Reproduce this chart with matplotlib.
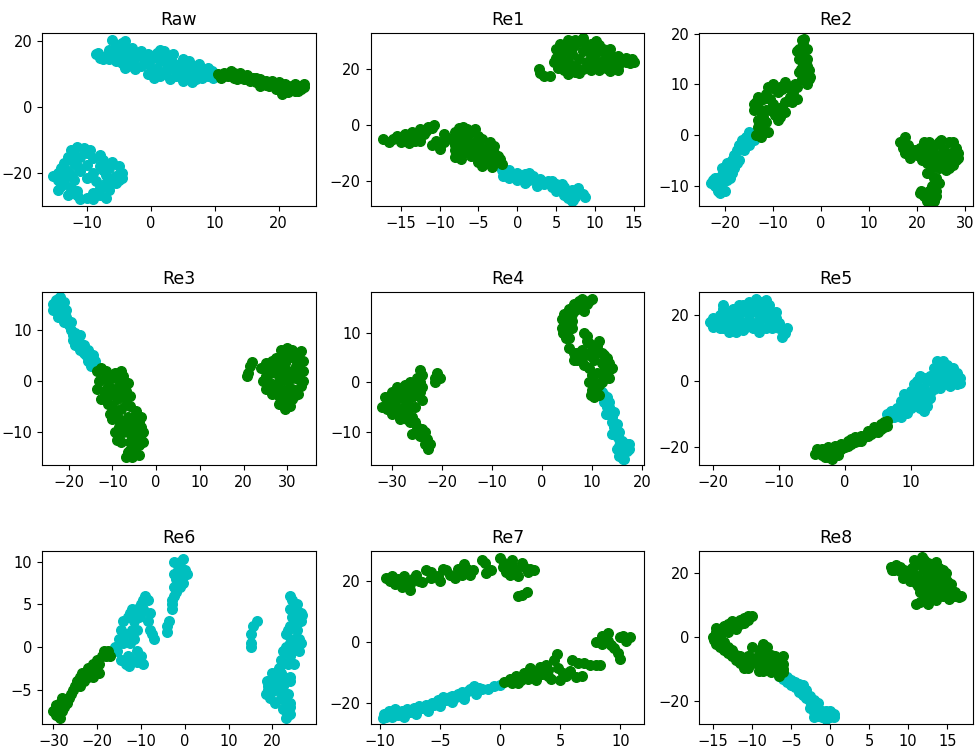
import numpy as np
import matplotlib
matplotlib.use("Agg")
import matplotlib.pyplot as plt

# embedded 2-D coordinates, one list of (x, y) per colour and panel
raw_cyan = [
    (-8.5, 16), (-8, 15), (-7.5, 14.5), (-8.3, 16.5),
    (-6, 20.5), (-5.5, 19), (-5, 18), (-4.5, 19.5), (-4, 18.5), (-3.5, 17), (-4, 15.5), (-5, 16),
    (-6, 16), (-6.5, 14.5), (-5.5, 14), (-4.5, 13.5), (-3.5, 12.5), (-3, 14), (-2.5, 11.5), (-4, 12),
    (-5, 17), (-3, 16),
    (-1.5, 17), (-1, 15), (-0.5, 13), (-1.5, 12.5), (0, 11), (0.5, 9), (1, 16.5), (1.5, 14), (1, 12),
    (2, 10.5), (2.5, 13), (3, 15), (3.5, 11.5), (4, 9.5), (4.5, 13), (5, 14.5), (5, 8), (5.5, 11),
    (6, 9), (6.5, 7.5), (6.5, 12.5), (7, 10.5), (7.5, 13), (8, 9), (8.5, 11), (9, 9.5), (9.5, 11),
    (2, 17), (0, 14.5), (3, 8.5), (4, 12), (-2, 15.5),
    (-7, 15.5), (-6.5, 17.5), (-5.5, 16.5), (-4.5, 15), (-3.5, 14.5), (-2.8, 13), (-3, 18), (-4, 20),
    (-0.5, 16), (0.5, 15.5), (-0.5, 10), (1.5, 9.5), (2.5, 11.5), (3.5, 13.5), (4.5, 10.5),
    (5.5, 12.5), (6, 14), (7, 8.5), (8, 11.5), (9, 12), (9.8, 9), (2, 15.5), (3.5, 16), (1.5, 17.5),
    (-11.5, -12), (-12.5, -13), (-10.5, -12.5), (-9.5, -13), (-13, -15), (-11, -15), (-9, -15.5),
    (-7.5, -16), (-12, -17), (-10, -17.5), (-8, -18), (-6.5, -18.5), (-5, -18), (-14, -18.5),
    (-13, -19.5), (-11, -19.5), (-9, -20), (-7, -20.5), (-5.5, -21), (-4.5, -20), (-15.2, -21),
    (-14.5, -22), (-13.5, -21.5), (-12, -22), (-8.5, -22.5), (-7, -23), (-5.5, -23), (-14, -24),
    (-12.5, -24.5), (-8, -24.5), (-6.5, -25), (-13, -26.5), (-11.5, -26.5), (-10, -27.5), (-9, -26),
    (-8, -26.5), (-11.5, -25.5), (-12.5, -25.5),
    (-14.5, -20), (-13.5, -17), (-12, -14.5), (-10, -14), (-8, -14.5), (-6, -16.5), (-5, -22),
    (-6.5, -21.5), (-10, -21.5), (-12.5, -20.5), (-14.5, -25), (-13.5, -23), (-7, -27.5), (-9, -28),
    (-11, -28), (-6.5, -24), (-4.5, -21.5), (-7.5, -19), (-11.5, -18),
]
raw_green = [
    (10.5, 10), (11, 9), (11.5, 10.5), (12, 9.5), (12.5, 11), (13, 9), (13, 10.5), (13.5, 8.5),
    (14, 9.5), (14.5, 8.5), (15, 9.8), (15.5, 8), (16, 9), (16.5, 7.5), (17, 8.5), (17.5, 7),
    (18, 8), (18.5, 6.5), (19, 7), (19.5, 5.5), (20, 7.5), (20.5, 5), (21, 6), (21.5, 4.5),
    (22, 6.5), (22.5, 5), (23, 6.5), (23.5, 5.5), (24, 6), (20.5, 4), (21, 7), (22, 5.5),
    (11.5, 9.5), (12.5, 9.8), (14, 10.3), (15, 8.7), (16.5, 8.8), (18, 6.8), (19, 8), (20, 5.5),
    (21.5, 6.5), (23, 5), (24, 7), (22.5, 7), (19.5, 6.5), (17, 6.5),
]

re1_cyan = [
    (-2, -16), (-1.5, -17.5), (-1, -16), (-0.5, -18), (0, -17), (0.5, -18.5), (1, -17.5),
    (1.5, -19.5), (2, -18), (2.5, -20), (3, -19), (3.5, -21), (4, -20), (4.5, -22), (5, -21),
    (5.5, -23), (6, -22), (6.5, -24.5), (7, -23), (7.5, -25.5), (8, -24), (8.5, -24.5), (6.5, -26),
    (7.2, -26.5), (2.5, -21.5), (1, -20.5), (-1, -18.8),
    (-1.8, -18), (0, -19.5), (1.5, -17), (3, -20.5), (4.5, -19.8), (5.8, -21), (6, -25),
    (7.8, -22.5), (8.8, -25.5), (7, -27), (5, -23.5),
]
re1_green = [
    (2.8, 20), (3, 18.5), (3.5, 17.5), (4.2, 17.5),
    (5, 27), (5.5, 29), (6.5, 30.5), (7.5, 30.5), (8.5, 29.5), (9.5, 29), (10.5, 28.5), (11, 27),
    (5, 24), (6, 26), (6.5, 23), (7, 21), (5.5, 21.5), (6, 19.5), (7.5, 19), (8.5, 20), (9, 22.5),
    (9.5, 25), (8.5, 26.5), (10, 21), (11, 23), (11.5, 25), (12, 22), (12.5, 24), (13, 21),
    (13.5, 23), (14, 24), (14.5, 22), (15, 22.5), (13, 19.5), (11.5, 20.5), (8, 18.5), (7, 27.5),
    (9.8, 27), (12, 27), (10.5, 19.5), (6.5, 18.2), (4.8, 22.5), (5.5, 25),
    (6, 28.5), (7.5, 28.5), (9, 27.5), (10.5, 26.5), (12, 25.5), (13, 24.5), (14, 22.5),
    (14.8, 23.5), (12, 19.2), (9.5, 19.5), (7.5, 21), (6, 22.5), (8, 23.5), (10, 23.5), (11, 21.5),
    (12.8, 22.2), (5.2, 20.2), (8.5, 31), (10.2, 29.8), (7, 25.5),
    (-17.3, -5), (-16, -5), (-15.5, -4), (-15, -6), (-14.5, -3), (-14, -5), (-13.5, -2.5),
    (-13, -4), (-12.5, -1.5), (-12, -3), (-11.5, -0.5), (-11, -1), (-10.7, 0), (-14, -6.5),
    (-12.5, -5.5),
    (-11, -7), (-10, -7.5), (-9.5, -6), (-9.5, -3), (-10, -8.5),
    (-7.5, -1), (-6.5, -1.5), (-7, -0.5), (-5.5, -1.5), (-8, -2.5),
    (-8.5, -5), (-7.5, -5), (-6.5, -4), (-7, -7), (-8, -9), (-6, -8), (-7, -10), (-6, -11),
    (-8, -11.5), (-5.5, -6),
    (-5, -7), (-4.5, -5), (-4, -8), (-3.5, -6), (-5, -10), (-4, -11), (-3, -10), (-5, -13),
    (-4, -13.5), (-3, -13), (-2.2, -12), (-2, -14), (-3.5, -9), (-4.5, -12),
    (-16.5, -6), (-15, -4.8), (-13.2, -5.5), (-11.8, -2), (-10.5, -5.5), (-9, -4.5), (-8, -7),
    (-6.5, -6), (-7.5, -3), (-6, -2.5), (-5, -4), (-3, -7.5), (-3.8, -10.5), (-2.5, -11),
    (-5.5, -9.5), (-7.2, -12), (-4.5, -14.5), (-3.2, -14.8),
]

re2_cyan = [
    (-22.5, -9), (-22, -10), (-21.5, -11), (-21, -9.5), (-20.5, -10.5), (-20, -9), (-20.5, -8),
    (-19.5, -7), (-19, -8.5), (-19, -6), (-18.5, -5), (-18, -6.5), (-18, -4), (-17.5, -3),
    (-17, -5), (-17, -2), (-16.5, -1), (-16, -3), (-15.5, -0.5), (-15, -2), (-14.5, 0), (-14, -1),
    (-21.5, -8.5), (-22.8, -9.5), (-18.5, -7.5),
    (-21, -11.5), (-22, -8.5), (-20, -11), (-19.5, -9), (-17.5, -5.5), (-16, -1.5), (-15, 0.5),
    (-20.5, -6.5), (-19.5, -5.5),
]
re2_green = [
    (-13.5, 0), (-13, 1.5), (-12, 1), (-11, 0.5), (-11.5, 2.5), (-13, 3), (-14, 5), (-13.5, 6.5),
    (-13, 7.5), (-12, 7), (-12.5, 4.5), (-11.5, 5),
    (-11, 9.5), (-10, 10), (-9.5, 9), (-8.5, 9.5), (-7.5, 10.5), (-8, 9),
    (-10, 6), (-9, 5), (-9.5, 4), (-8, 5.5), (-7.5, 6.5), (-6, 6.5), (-10.5, 7), (-8.5, 3.5), (-5, 7),
    (-5.5, 10), (-5, 9.5), (-5.8, 8.5),
    (-3.5, 19), (-3.8, 18), (-4.5, 17), (-4, 16), (-3.5, 15.5), (-4.5, 15), (-3.8, 14), (-4.2, 13),
    (-3, 13.5), (-3.2, 12), (-2.5, 11), (-3, 10), (-3.5, 11.5), (-2.5, 12.8), (-4.5, 12.5), (-5, 16.5),
    (-12.5, -0.5), (-12, 3.5), (-14, 6), (-13, 5.5), (-11.5, 8), (-9, 8.5), (-7, 9.5), (-7.5, 4.5),
    (-6.5, 7.5), (-9, 3), (-10.5, 5), (-4, 11), (-3, 17), (-4, 18.8), (-3, 15), (-2.2, 11.5),
    (16.5, -1.5), (17.5, -0.5), (18, -2), (17.5, -3.5), (18.5, -4.5), (19.5, -3), (20.5, -2.5),
    (21, -4), (21.5, -3), (22, -5.5), (22.5, -1.5), (23, -3), (23.5, -5), (23, -6.5), (24, -2),
    (24.5, -4), (24.5, -6.5), (25, -1), (25.5, -3), (26, -5.5), (26.5, -1.5), (27, -3.5), (27.5, -6),
    (28, -2.5), (28.5, -3.5), (28, -5), (26, -7), (25, -5), (22, -7.5),
    (17, -2.5), (19, -3.8), (20, -4), (21.5, -1.5), (23, -2), (24, -5.5), (25.5, -4.5), (26.5, -6.5),
    (27.5, -1.5), (28.5, -4.5), (27, -5), (24.5, -1.5), (21, -5), (22, -4),
    (20.5, -11.5), (21.5, -12), (22.5, -12.5), (23.5, -13), (23, -10), (24, -11), (24.5, -9.5),
    (23.5, -8.5), (22.5, -11), (24, -12), (22, -13), (24, -8.5), (20.8, -11),
]

re3_cyan = [
    (-23.5, 15), (-23, 14), (-22.5, 16), (-22, 15), (-22, 13.5), (-21.5, 14.5), (-21, 13),
    (-20.5, 12.5), (-20.5, 14), (-23, 15.8), (-20, 11), (-19.5, 10), (-18.5, 9.5), (-18, 8.5),
    (-17.5, 7.5), (-18.5, 7), (-17, 6.5), (-16.5, 5.5), (-16, 5), (-15.5, 4), (-14.5, 5), (-14, 4),
    (-14.8, 3), (-19, 8), (-17.5, 9),
    (-23.5, 14), (-22, 16.5), (-21, 15.5), (-22.5, 12.5), (-21, 11.5), (-19.5, 11.5), (-19, 9),
    (-17.5, 6), (-16.5, 7), (-15.5, 6), (-15, 4.5),
]
re3_green = [
    (-13.5, 2), (-12.5, 2.5), (-11.5, 2), (-13, 0), (-13.5, -1.5), (-12, -2), (-11, -3), (-10, -2),
    (-10, 0.5), (-9.5, 1.5), (-8.5, 0), (-8, -1), (-7.5, 1), (-9, -3.5), (-7, -2), (-6.5, -0.5),
    (-6, -3), (-12.5, -3.5), (-9.8, -1.5),
    (-11, -4.5), (-10, -5), (-9, -6), (-10, -7.5), (-8, -5.5), (-7, -4.5), (-6, -5), (-6.5, -7),
    (-8.5, -9), (-9.5, -10), (-7.5, -10), (-6, -9),
    (-5, -7), (-4, -8), (-3.5, -9), (-3, -10), (-4.5, -10.5), (-5.5, -11), (-6, -12), (-4, -12.5),
    (-5, -13.5), (-6.5, -14), (-7, -15), (-5.5, -15), (-3.5, -11.5), (-6.5, -10), (-4.5, -6),
    (-12, 0.5), (-11, -1), (-9, -1.5), (-8, 2), (-7.5, -3), (-10.5, -6.5), (-8.5, -7.5), (-7, -8.5),
    (-8, -12), (-9, -11.5), (-5, -9), (-3.5, -7), (-4, -14.5), (-6, -13.5), (-3, -12), (-5.5, -8.5),
    (-4, -10),
    (21, 1.5), (21.5, 3), (22, 3.8), (20.8, 1),
    (24, 2.5), (24.5, 0), (25, 3.5), (25.5, -1), (26, 1.5), (26.5, -2.5), (27, 3), (27, -1),
    (27.5, 4.5), (28, 0), (28, -3), (28.5, 2), (28.5, 6), (29, -4.5), (29.5, -2), (29.5, 3.5),
    (30, 6.5), (30, 0), (30.5, -5), (31, 2), (31, -1.5), (31.5, 4.5), (32, 0.5), (32, 5.5),
    (32.5, -2.5), (33, 2), (33.5, 4), (33.5, 0), (31, -3.5), (30, -3), (26, -0.5), (25, 1), (33.2, 5.8),
    (25, -1.5), (25.5, 2.5), (26.5, 4), (27.5, 1.5), (27.5, -2), (28, 3.5), (28.5, -1.5), (29, 1),
    (29, 5), (29.5, -3.5), (30, 2), (30, 4.5), (30.5, -1.5), (31, 0.5), (31, 6), (31.5, -3),
    (32, 3), (32.5, 1), (33, -1), (33.5, 2), (29.5, -5.5), (28, -4.5), (32.5, 4),
]

re4_cyan = [
    (12, -2), (12.5, -4), (13, -3), (13, -6.5), (13.5, -5), (14, -7), (14.5, -6), (14.5, -9),
    (14, -10.5), (15, -8.5), (15, -11), (15.5, -10), (15.5, -13), (16, -12), (16, -14.5),
    (16.5, -13.5), (17, -12.5), (17.5, -12.5), (15.5, -15), (16.5, -15.5), (13.5, -4),
    (12.5, -2.5), (13, -5), (14, -8), (14.5, -10), (15.5, -11.5), (16, -13), (17, -14), (15, -13.5),
    (16.2, -15.5), (17.5, -13.5), (12.8, -6.5),
]
re4_green = [
    (-32, -5), (-31.5, -3), (-31, -4.5), (-30, -2), (-30, -6.5), (-29.5, -4), (-29, -1), (-29, -6),
    (-28.5, -3), (-28.5, -7.5), (-28, -2), (-27.5, -4.5), (-27, -1.5), (-27, -6), (-26.5, 0),
    (-26, -3), (-26, -7), (-25.5, -1), (-25.5, -5), (-25, 1), (-24.5, 2.5), (-24, 1.5), (-24.5, -2),
    (-24, -3.5), (-25, -9), (-26, -10.5), (-24.5, -11), (-23.5, -10), (-23, -11.5), (-22.8, -13.5),
    (-25.5, -8), (-21.5, 1), (-21, 2), (-20.5, 1), (-21.5, 0),
    (-31, -5.5), (-30.5, -3), (-29.5, -5), (-28, -5.5), (-27, -3), (-26.5, -5), (-26, -1.5),
    (-25, -2.5), (-24.5, 0), (-24, -1), (-27.5, -0.5), (-28.5, -6.5), (-24, -9.5), (-25, -10),
    (-23.5, -12.5), (-22.5, -12.5), (-26.5, -8), (-27, -7.5),
    (4, 11), (4, 13), (4.5, 14), (5, 12), (5.5, 15), (6, 14), (6.5, 16), (7, 15), (7.5, 16.5),
    (8, 17), (9, 16), (10, 17), (8.5, 14.5), (5, 10.5), (4.8, 9), (5.5, 9), (6, 11),
    (5.5, 7), (6.5, 6), (7, 4.5), (8, 5), (8.5, 3.5), (9, 9.5), (9.5, 8), (9.5, 3), (10.5, 4.5),
    (11, 6), (11.5, 8.5), (12, 4), (12.5, 2.5), (13, 5), (13.5, 4), (14, 3), (13.5, 1), (12, 0),
    (11, -1), (10, -1.5), (9.5, 0), (10, 1.5), (11.5, -2.5), (10.5, -3),
    (4.5, 12), (5.5, 13), (6.5, 14.5), (7, 16), (8.5, 16), (9.5, 16.5), (6, 12.5), (4.2, 10),
    (7, 6), (8, 6.5), (6.5, 4.5), (9.5, 5.5), (10, 6.5), (11, 7.5), (12, 6), (12.5, 5.5),
    (13.5, 2.5), (12.5, 1), (11, 2), (10.5, 0), (9.8, -2.5), (11.5, -0.5), (8.5, 10), (9, 8.5),
]

re5_cyan = [
    (-20.5, 18), (-20, 16.5), (-20, 19), (-19.5, 17.5), (-19, 20), (-18.5, 16), (-18, 18), (-18, 21),
    (-17.5, 15), (-17, 22), (-17, 19), (-16.5, 17), (-16, 23), (-16, 20), (-15.5, 15.5), (-15, 18),
    (-15, 21.5), (-14.5, 24), (-14, 16), (-14.5, 20), (-13.5, 22), (-13.5, 25), (-13, 15), (-13, 18),
    (-12.5, 24), (-12.5, 20.5), (-12, 16), (-12, 22.5), (-11.5, 18.5), (-11, 21), (-11, 16),
    (-10.5, 19), (-10, 17.5), (-9.5, 13.5), (-9, 14.5), (-8.8, 16), (-18.5, 23), (-16.5, 15),
    (-20, 17.5), (-19, 18.5), (-19, 16), (-18, 19.5), (-17.5, 17), (-17.5, 20), (-16.5, 21.5),
    (-16, 18), (-15.5, 23), (-15, 16.5), (-14.5, 22.5), (-14, 17.5), (-13.5, 16.5), (-13, 20),
    (-12, 19), (-11.5, 23), (-11, 17.5), (-10.5, 21), (-12, 24.5), (-13, 23.5), (-10, 16),
    (-16.5, 19.5), (-18.5, 22),
    (6.5, -10), (7, -9), (7.5, -11), (8, -8), (8.5, -6), (8.5, -11), (9, -4), (9.5, -7), (9.5, -9.5),
    (10, -5.5), (10.5, -3), (10.5, -1), (11, -6), (11, 0), (11.5, -8), (11.5, 1.5), (12, -4),
    (12, -2), (12.5, 0), (12.5, -6), (13, -3.5), (13.5, -1), (13.5, 4), (14, 6), (14, 1.5),
    (14.5, -2), (15, 3), (15, -1), (15.5, 5), (16, 2), (16, -1.5), (16.5, 4), (17, 1), (17, -1),
    (17.5, -0.5), (15.5, 0.5), (12, -9),
    (7, -11), (8, -10), (9, -8.5), (10, -8), (10, -3), (11, -4), (11.5, -2), (12, 1), (13, -5),
    (13, 1.5), (13.5, -2.5), (14, 3), (14.5, 0.5), (14.5, 4.5), (15, 6), (15.5, 2), (16, 3.5),
    (16.5, -0.5), (17, 2.5), (17.5, 1), (14, -1.5), (11.5, -6), (12.5, -7.5), (9.5, -5),
]
re5_green = [
    (-4, -21.5), (-3.5, -20.5), (-3.5, -22.5), (-3, -21), (-2.5, -23), (-2.5, -20), (-2, -21.5),
    (-1.5, -19.5), (-1, -21), (-0.5, -19), (0, -20), (0.5, -18), (1, -19), (1.5, -17), (2, -18),
    (2.5, -16.5), (3, -17), (3.5, -15), (4, -16), (4.5, -14), (5, -15.5), (5.5, -13), (6, -14),
    (6.5, -12), (6.5, -13.5), (-4.5, -22), (-1.5, -22), (1, -17.5),
    (-3, -23), (-2, -23.5), (-1, -22.5), (-0.5, -20.5), (0.5, -19.5), (1.5, -18.5), (2.5, -18),
    (3.5, -16.5), (4.5, -15.5), (5.5, -14.5), (6, -12.5), (-4.2, -20.5),
]

re6_cyan = [
    (-16, 0), (-15.5, -0.5), (-15, 1), (-14.5, -1.5), (-14.5, 2), (-14, 3), (-13.5, -2), (-13, 3.5),
    (-13, -1), (-12.5, 4), (-12.5, 0.5), (-12, 4.5), (-12, 2), (-11.5, 3), (-11, 4.5), (-11.5, 1),
    (-11, -0.5), (-10.5, -1.5), (-10, -1), (-10, 4), (-10, 5), (-9.5, 4.5), (-9.5, 5.5), (-9, 6),
    (-8.5, 5.5), (-8.5, 3), (-8, 2), (-7.5, 1.5), (-7, 1), (-9.5, -2),
    (-14, 0.5), (-13.5, 1.5), (-12, -1.5), (-11, 2), (-10.5, 3.5), (-8, 4), (-11, -1.8), (-12.8, -2.2),
    (-4, 1.8), (-4, 2.5), (-3.5, 3), (-3, 4.5), (-3, 5.5), (-2.5, 6), (-2.5, 7), (-2, 6.5),
    (-2.5, 8.5), (-2, 8), (-1.5, 9), (-2.5, 10), (-1, 10), (-0.5, 10.3), (-1, 8.5), (0, 9),
    (0.5, 8.5), (-1, 7), (-0.5, 7.5), (-3, 5),
    (15, 0.5), (15.2, 1.5), (15.5, 2.5), (16.5, 3), (15, 0),
    (24, 6), (24.5, 5.5), (25, 5), (24, 4.5), (25.5, 4), (26.5, 4), (26.5, 3), (25, 3), (24, 2.5),
    (23.5, 2), (23, 1.5), (25.5, 2), (26, 1), (26.5, 0.5), (25, 0), (24.5, -0.5), (26, -0.5),
    (23, 0), (22.5, -0.5), (24, -1), (23.5, -2), (25, -2), (22, -1.5), (21.5, -2.5), (21, -3.5),
    (21, -4.5), (22, -3), (22.5, -3.5), (24, -3.5), (24, -4), (20, -3), (19.5, -4), (19, -5),
    (18.5, -5.5), (19.5, -6), (20.5, -5), (20.5, -6.5), (22, -5), (22.5, -6), (23, -6.5),
    (23.5, -5.5), (23, -7.5), (23.5, -8), (24, -7), (24, -6.5), (23, -8.3), (22.5, -4.5), (19, -4.5),
    (24.5, 3.5), (25.5, 5), (26.8, 3.8), (25, 1), (24, 0.5), (23.5, -0.5), (21.5, -3.5), (20.5, -4),
    (19.5, -5), (22, -6), (23.5, -7), (24, -7.8), (22.5, -7.2), (18.8, -4),
]
re6_green = [
    (-30, -7.5), (-29.5, -8), (-29.5, -6.8), (-29, -7.5), (-28.5, -6.5), (-28.5, -8.3), (-28, -7.5),
    (-28, -6), (-27.5, -7), (-27, -6.5), (-26.5, -6), (-26, -5.5), (-25.5, -5), (-25, -4.5),
    (-24.5, -4), (-24, -4.5), (-24, -3.5), (-23.5, -3), (-23, -4), (-22.5, -3), (-22, -2.5),
    (-22, -3.5), (-21.5, -3), (-21, -2), (-20.5, -2.5), (-20, -1.5), (-19.5, -2), (-19, -1),
    (-18.5, -0.5), (-18, -1), (-17.5, -0.5), (-17, -1), (-19.5, -3), (-21, -3.5), (-29.5, -7.2),
]

re7_cyan = [
    (-9.7, -23.5), (-9.5, -24.5), (-9.3, -22.5), (-9, -23.5), (-8.8, -22), (-8.5, -24), (-8.2, -22.5),
    (-8, -23.5), (-7.8, -22), (-7.5, -23), (-7.2, -21.5), (-7, -22.5), (-6.8, -21), (-6.5, -21.5),
    (-6.2, -20.5), (-6, -21), (-5.7, -20), (-5.5, -20.5), (-5.2, -19), (-5, -20), (-4.8, -18),
    (-4.5, -19), (-4.2, -18), (-4, -17.5), (-3.7, -18), (-3.5, -17), (-3.2, -16.5), (-3, -17.5),
    (-2.7, -16), (-2.5, -15.5), (-2.2, -14.5), (-2, -16), (-1.8, -15), (-1.5, -15.5), (-0.5, -14.5),
    (0, -14), (-9.8, -24.8),
    (-9, -24.5), (-8, -24.5), (-7, -23.5), (-6, -22.5), (-5, -21), (-4, -19.5), (-3, -18.5),
    (-2, -17), (-1, -15.5),
]
re7_green = [
    (-9.5, 21), (-9.2, 20), (-9, 21.5), (-8.8, 19), (-8.5, 20.5), (-8.2, 18), (-8, 20), (-8, 21.5),
    (-7.5, 19), (-7.5, 17), (-7.2, 21), (-7, 22), (-6.8, 20), (-6.5, 19.5), (-6.2, 23.5), (-5.8, 23),
    (-5.8, 21), (-5.2, 21.5), (-5, 20), (-4.8, 24), (-4.5, 23.5), (-4.2, 22), (-3.8, 21), (-3.5, 24),
    (-3.2, 22), (-3, 25.5), (-2.8, 24), (-2.5, 22), (-2.3, 23.5), (-1.5, 27), (-1.3, 26),
    (-1.2, 22.5), (-0.8, 23.5), (0, 27.5), (0.3, 26), (0.2, 24.5), (0.5, 23), (1, 27), (1, 25),
    (1.2, 23), (1.5, 21.5), (1.8, 26), (2, 24.5), (2.3, 23), (2.5, 24), (2.8, 23.5), (1.5, 15),
    (1.8, 15.5), (2.2, 16.5), (1.2, 24), (0.8, 22),
    (0.3, -13), (0.8, -12), (1, -13.5), (1.3, -11), (1.7, -12.5), (2, -10), (2.3, -12), (2.5, -8.5),
    (2.8, -10), (3, -12.5), (3.3, -8), (3.5, -10.5), (3.8, -7.5), (4, -9), (4.2, -12), (4.5, -6),
    (4.7, -4), (4.8, -8.5), (5, -12.5), (5.2, -10), (5.5, -11), (5.8, -9.5), (6, -6), (6.3, -11.5),
    (6.5, -7), (6.8, -11), (7, -7), (7.5, -7.5), (8, -7.5), (8.3, -7.5), (8, 0), (8.5, 2),
    (8.5, -0.5), (8.8, 1), (9, 3), (9.2, -1), (9.5, -2), (9.8, -3.5), (10, -5.5), (10, 1.5),
    (10.2, 2), (10.5, 0.5), (10.8, 1.5), (9, 0.5), (3, -11), (1.5, -13.5), (4, -11),
]

re8_cyan = [
    (-6, -13), (-5.5, -14), (-5, -13.5), (-5, -15), (-4.5, -15.5), (-4, -14.5), (-4, -17),
    (-3.5, -16), (-3.5, -18), (-3, -19), (-3, -17.5), (-2.5, -20), (-2.5, -22), (-2, -21),
    (-2, -23.5), (-1.5, -22.5), (-1.5, -24.5), (-1, -23), (-1, -25), (-0.5, -24), (-0.5, -25.5),
    (0, -23), (0, -25), (0.5, -24), (-2, -25), (-6.5, -12),
    (-5.5, -12.5), (-4.5, -14), (-3.5, -15), (-3, -16.5), (-2.5, -18.5), (-2, -19.5), (-1.8, -22),
    (-1, -24), (0.5, -25), (-0.5, -23), (-1.5, -20.5),
]
re8_green = [
    (7.8, 22), (8.2, 21), (8.5, 22.5), (9, 20.5), (9.3, 18.5), (9.5, 21), (10, 19), (10.3, 17.5),
    (10.5, 21.5), (10.8, 24), (11, 19.5), (11.3, 16), (11.8, 25), (11.5, 22.5), (11.5, 14),
    (11.5, 11), (12, 18), (12.2, 13), (12.5, 10.5), (12.5, 23), (12.8, 20), (13, 16.5), (13.3, 22.5),
    (13.5, 14), (13.8, 19), (14, 21.5), (14.2, 16.5), (14.5, 13), (14.8, 20), (15, 17.5), (15.2, 12),
    (15.5, 15), (15.8, 13), (16.2, 13), (16.5, 12.5), (13, 12.5), (12, 21),
    (8, 21), (9, 22), (10, 20.5), (10.5, 18.5), (11, 23), (11, 17), (12, 24), (12, 15.5), (12, 12),
    (12.8, 14.5), (13, 18), (13.5, 20.5), (13.5, 23.5), (14, 18), (14.5, 15), (14.5, 21), (15, 14),
    (15.5, 16.5), (16, 14), (16.8, 13), (13.5, 11.5), (11, 10.5), (12.5, 17),
    (-15, 0), (-14.8, -1), (-14.5, 1.5), (-14.5, 3), (-14, 0.5), (-14, 2.5), (-13.5, 3.5),
    (-13.5, -1.5), (-13, 4), (-12.5, 3), (-12.5, 5), (-12, 4.5), (-11.5, 5.5), (-11, 6),
    (-10.5, 5.5), (-10, 6.5), (-11.5, 4),
    (-14, -3), (-13.5, -4), (-13, -5), (-12.5, -6), (-12.5, -4), (-12, -7), (-11.5, -8), (-11, -7),
    (-11, -9.5), (-10.5, -6), (-10, -3), (-10, -8), (-9.5, -6.5), (-9, -7.5), (-8.5, -5), (-8.5, -2),
    (-8, -3), (-8, -6), (-8, -10), (-7.5, -8), (-7, -6), (-7, -10.5), (-6.5, -7.5), (-6.5, -9),
    (-6, -6), (-6, -8.5), (-6, -11), (-6.5, -12), (-9, -10.5), (-10.5, -9.5),
    (-14.5, -2), (-13, 1.5), (-12, 2.5), (-11, 4.5), (-10.5, 6.5), (-13, -3), (-12, -5.5),
    (-11.5, -6), (-10, -6.5), (-9, -4), (-9, -9), (-8, -8.5), (-7.5, -5.5), (-7, -7.5), (-6, -10),
    (-6.5, -11), (-8.5, -10.5), (-7.5, -11),
]

titles = ["Raw", "Re1", "Re2", "Re3", "Re4", "Re5", "Re6", "Re7", "Re8"]
cyan_sets = [raw_cyan, re1_cyan, re2_cyan, re3_cyan, re4_cyan, re5_cyan, re6_cyan, re7_cyan, re8_cyan]
green_sets = [raw_green, re1_green, re2_green, re3_green, re4_green, re5_green, re6_green, re7_green, re8_green]

x_limits = [(-17, 25.8), (-18.9, 16.4), (-25.3, 31.6), (-26.1, 36.5), (-34.3, 20.5),
            (-22.1, 19.5), (-32.6, 29.9), (-10.8, 12.0), (-16.7, 18.3)]
y_limits = [(-30, 22.5), (-28.8, 32.8), (-14.05, 20.1), (-16.5, 17.45), (-16.8, 18.4),
            (-25.4, 27), (-9.0, 11.25), (-26.8, 29.8), (-27.1, 26.9)]
x_ticks = [[-10, 0, 10, 20], [-15, -10, -5, 0, 5, 10, 15], [-20, -10, 0, 10, 20, 30],
           [-20, -10, 0, 10, 20, 30], [-30, -20, -10, 0, 10, 20], [-20, -10, 0, 10],
           [-30, -20, -10, 0, 10, 20], [-10, -5, 0, 5, 10], [-15, -10, -5, 0, 5, 10, 15]]
y_ticks = [[-20, 0, 20], [-20, 0, 20], [-10, 0, 10, 20], [-10, 0, 10], [-10, 0, 10],
           [-20, 0, 20], [-5, 0, 5, 10], [-20, 0, 20], [-20, 0, 20]]


def main():
    plt.rcParams['font.family'] = ['DejaVu Sans']

    fig, axes = plt.subplots(3, 3, figsize=(9.76, 7.51), dpi=100)
    fig.subplots_adjust(left=0.043, right=0.997, bottom=0.036, top=0.956,
                        wspace=0.2, hspace=0.497)

    for i, ax in enumerate(axes.flat):
        cyan = np.array(cyan_sets[i])
        green = np.array(green_sets[i])
        ax.scatter(cyan[:, 0], cyan[:, 1], c='c', s=48)
        ax.scatter(green[:, 0], green[:, 1], c='g', s=48)
        ax.set_xlim(x_limits[i])
        ax.set_ylim(y_limits[i])
        ax.set_xticks(x_ticks[i])
        ax.set_yticks(y_ticks[i])
        ax.tick_params(labelsize=10.5)
        ax.set_title(titles[i], fontsize=12.5)

    fig.savefig("out.png", dpi=100)
    plt.close(fig)


if __name__ == '__main__':
    main()
